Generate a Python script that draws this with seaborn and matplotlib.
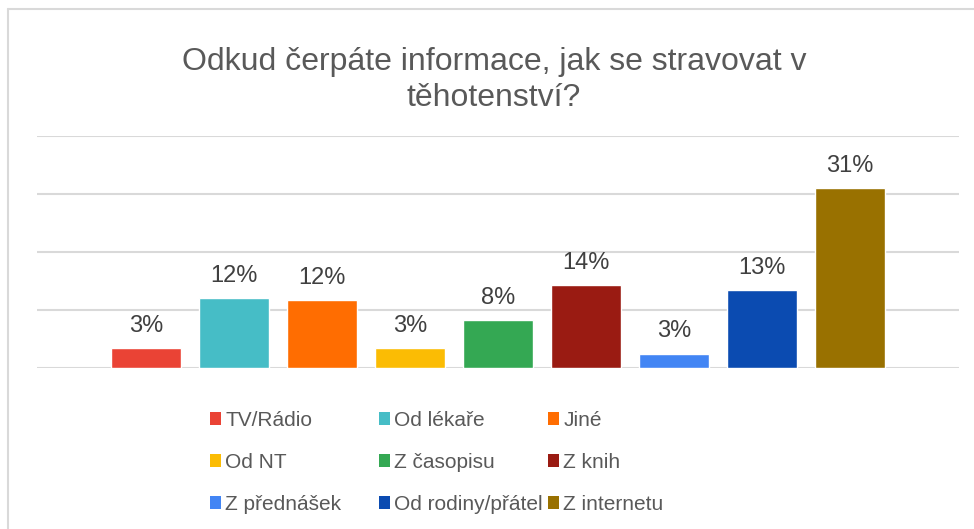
import matplotlib
matplotlib.use("Agg")
import matplotlib.pyplot as plt
import seaborn as sns
import pandas as pd
from matplotlib.patches import Patch
from matplotlib.lines import Line2D
from matplotlib.ticker import MultipleLocator

# data (share of respondents)
sources = ["TV/Rádio", "Od lékaře", "Jiné", "Od NT", "Z časopisu",
           "Z knih", "Z přednášek", "Od rodiny/přátel", "Z internetu"]
shares = [0.034, 0.120, 0.117, 0.034, 0.082, 0.143, 0.025, 0.134, 0.310]
labels = ["3%", "12%", "12%", "3%", "8%", "14%", "3%", "13%", "31%"]
colors = ["#EA4335", "#46BDC6", "#FF6D01", "#FBBC04", "#34A853",
          "#9A1B12", "#4285F4", "#0B4BB1", "#997100"]

title = "Odkud čerpáte informace, jak se stravovat v\ntěhotenství?"

df = pd.DataFrame({"group": [""] * len(sources), "source": sources, "share": shares})

sns.set_style("white")
plt.rcParams["font.family"] = ["Liberation Sans", "DejaVu Sans"]

W, H = 974, 529
fig = plt.figure(figsize=(W / 100, H / 100), dpi=100)
ax = fig.add_axes([37 / W, (H - 368) / H, (959 - 37) / W, (368 - 136) / H])

sns.barplot(data=df, x="group", y="share", hue="source", hue_order=sources,
            palette=colors, width=0.859, gap=0.2, saturation=1,
            legend=False, ax=ax, errorbar=None)

ax.set_xlim(-0.5, 0.5)
ax.set_ylim(0, 0.40)
ax.yaxis.set_major_locator(MultipleLocator(0.10))
ax.grid(axis="y", color="#D9D9D9", linewidth=1.5)
ax.set_axisbelow(True)
for s in ax.spines.values():
    s.set_visible(False)
ax.set_xticks([])
ax.set_yticklabels([])
ax.tick_params(left=False, bottom=False)
ax.set_xlabel("")
ax.set_ylabel("")

for cont, lab in zip(ax.containers, labels):
    ax.bar_label(cont, labels=[lab], padding=8, fontsize=17, color="#404040")

fig.text(494 / W, 1 - 80 / H, title, ha="center", va="center",
         fontsize=23, color="#595959", linespacing=1.28)

# legend: three columns, row-major order like the original
col_x = [210, 379, 548]
for c in range(3):
    idx = [c, c + 3, c + 6]
    handles = [Patch(facecolor=colors[i], edgecolor="none") for i in idx]
    fig.legend(handles, [sources[i] for i in idx], loc="upper left",
               bbox_to_anchor=(col_x[c] / W, 1 - 411 / H), frameon=False,
               fontsize=15, labelcolor="#595959", handlelength=0.53,
               handleheight=0.53, handletextpad=0.2, labelspacing=1.1,
               borderpad=0, borderaxespad=0)

# chart border (top and left only visible)
fig.add_artist(Line2D([7.5 / W, 1], [1 - 9 / H, 1 - 9 / H], color="#D9D9D9", linewidth=1.5))
fig.add_artist(Line2D([7.5 / W, 7.5 / W], [0, 1 - 9 / H], color="#D9D9D9", linewidth=1.5))

fig.savefig("out.png", dpi=100)
